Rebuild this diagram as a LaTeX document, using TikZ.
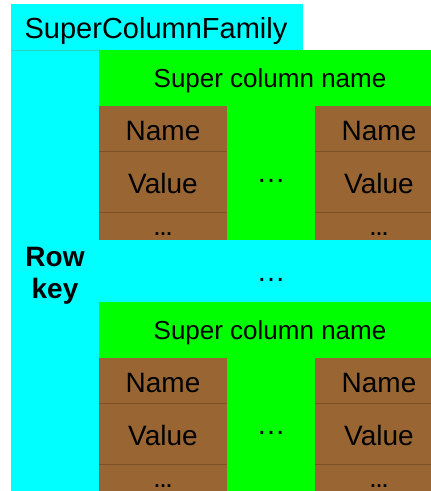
\documentclass[tikz,border=0pt]{standalone}
\usepackage{fontspec}
\setmainfont{Liberation Sans}
\definecolor{cy}{HTML}{00FFFF}
\definecolor{gr}{HTML}{00FF00}
\definecolor{br}{HTML}{996633}
\definecolor{brline}{HTML}{7E5026}
\definecolor{cyline}{HTML}{2BD2D2}
\begin{document}
\begin{tikzpicture}[x=1pt,y=-1pt,
  txt/.style={inner sep=0pt, text=black},
  big/.style={txt, font=\fontsize{28}{32}\selectfont},
  mid/.style={txt, font=\fontsize{26}{30}\selectfont},
  dotsbig/.style={txt, font=\fontsize{29}{32}\selectfont},
  dotssmall/.style={txt, font=\bfseries\fontsize{19}{22}\selectfont},
  sep/.style={line width=0.8pt}]
\useasboundingbox (0,0) rectangle (431,491);
\clip (0,0) rectangle (431,491);

% family header and row area
\fill[cy] (11,4) rectangle (303,50);
\fill[cy] (11,50) rectangle (431,491);
\draw[sep, cyline] (11,50) -- (99,50);
\node[txt, font=\fontsize{29}{32}\selectfont, anchor=base] (family) at (156,38) {SuperColumnFamily};

% row key label
\node[txt, font=\bfseries\fontsize{28}{32}\selectfont, align=center] (rowkey) at (55,276) {Row\\key};

% two super columns
\foreach \b/\t in {1/50,2/302}{
  % green super column with its name
  \fill[gr] (99,\t) rectangle (445,\t+190);
  \node[mid, anchor=base] (scname\b) at (270,\t+37) {Super column name};
  % brown column stacks
  \foreach \c/\xl in {L/99,R/315}{
    \fill[br] (\xl,\t+56) rectangle (\xl+128,\t+190);
    \draw[sep, brline] (\xl,\t+101) -- (\xl+128,\t+101);
    \draw[sep, brline] (\xl,\t+162) -- (\xl+128,\t+162);
    \node[big, anchor=base] (name\b\c) at (\xl+64,\t+90) {Name};
    \node[big, anchor=base] (value\b\c) at (\xl+64,\t+143) {Value};
    \node[dotssmall] (more\b\c) at (\xl+64,\t+184) {…};
  }
  % gap between the two columns
  \node[dotsbig] (cols\b) at (271,\t+131) {…};
}

% gap between the two super columns
\node[dotsbig] (supers) at (271,280) {…};
\end{tikzpicture}
\end{document}
